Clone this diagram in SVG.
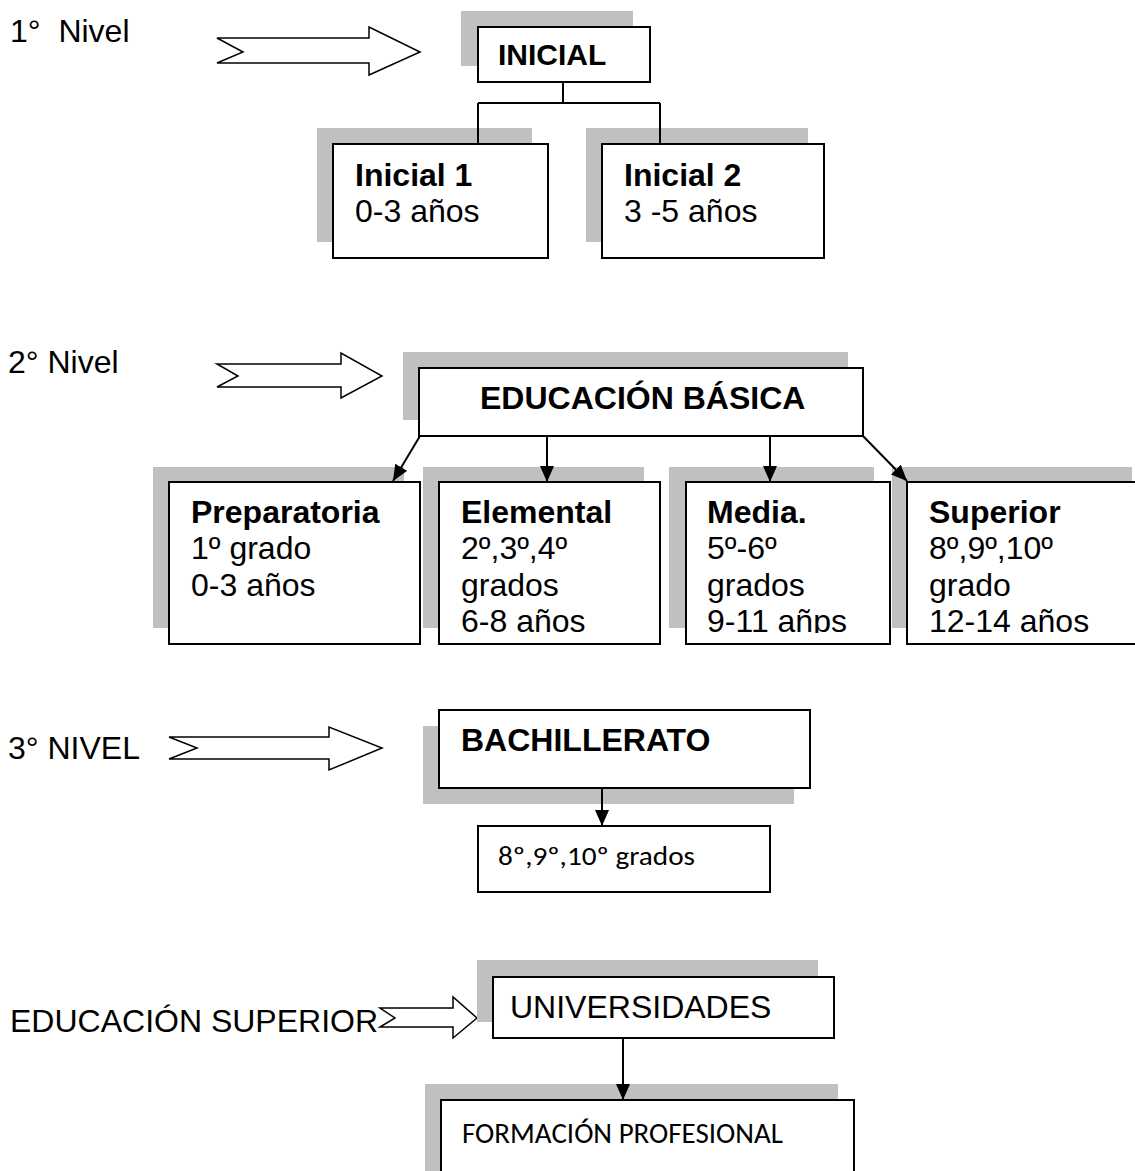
<svg xmlns="http://www.w3.org/2000/svg" width="1135" height="1171" viewBox="0 0 1135 1171">
<style>
.sh{fill:#c0c0c0}
.bx{fill:#fff;stroke:#000;stroke-width:2}
.blk{fill:#fff;stroke:#000;stroke-width:1.5;stroke-linejoin:miter}
.t{font-family:"Liberation Sans",Arial,sans-serif;font-size:32px;fill:#000}
.b{font-weight:bold}
.c{font-family:Carlito,Lato,"Open Sans",sans-serif;fill:#000}
.ln{stroke:#000;stroke-width:2;fill:none}
.ar{stroke:#000;stroke-width:2;fill:none;marker-end:url(#ah)}
</style>
<defs>
<marker id="ah" markerUnits="userSpaceOnUse" markerWidth="16" markerHeight="14" refX="16" refY="7" orient="auto" viewBox="0 0 16 14">
<path d="M0,0 L16,7 L0,14 z" fill="#000"/>
</marker>
<clipPath id="row2"><rect x="0" y="482" width="1135" height="151"/></clipPath>
</defs>
<rect width="1135" height="1171" fill="#fff"/>

<g id="labels">
<text class="t" x="10" y="42" style="white-space:pre">1°  Nivel</text>
<text class="t" x="8" y="373">2° Nivel</text>
<text class="t" x="8" y="759">3° NIVEL</text>
<text class="t" x="10" y="1032">EDUCACIÓN SUPERIOR</text>
</g>

<g id="block-arrows">
<path class="blk" d="M217,38 L369,38 L369,27 L420,52 L369,75 L369,63 L217,63 L243,52 Z"/>
<path class="blk" d="M217,364 L341,364 L341,353 L382,376 L341,398 L341,387 L217,387 L238,376 Z"/>
<path class="blk" d="M169,737 L329,737 L329,727 L382,748 L329,770 L329,759 L169,759 L197,748 Z"/>
<path class="blk" d="M380,1008 L453,1008 L453,997 L477,1018 L453,1038 L453,1027 L380,1027 L395,1018 Z"/>
</g>

<g id="n-inicial">
<rect class="sh" x="461" y="11" width="172" height="55"/>
<rect class="bx" x="478" y="27" width="172" height="55"/>
<text class="t b" x="498" y="65" style="font-size:30px">INICIAL</text>
</g>

<g id="n-inicial1">
<rect class="sh" x="317" y="128" width="215" height="114"/>
<rect class="bx" x="333" y="144" width="215" height="114"/>
<text class="t b" x="355" y="186">Inicial 1</text>
<text class="t" x="355" y="222">0-3 años</text>
</g>

<g id="n-inicial2">
<rect class="sh" x="586" y="128" width="222" height="114"/>
<rect class="bx" x="602" y="144" width="222" height="114"/>
<text class="t b" x="624" y="186">Inicial 2</text>
<text class="t" x="624" y="222">3 -5 años</text>
</g>

<g id="n-basica">
<rect class="sh" x="403" y="352" width="445" height="68"/>
<rect class="bx" x="419" y="368" width="444" height="68"/>
<text class="t b" x="480" y="409">EDUCACIÓN BÁSICA</text>
</g>

<g id="n-preparatoria">
<rect class="sh" x="153" y="467" width="251" height="161"/>
<rect class="bx" x="169" y="482" width="251" height="162"/>
<g clip-path="url(#row2)">
<text class="t b" x="191" y="523">Preparatoria</text>
<text class="t" x="191" y="559">1º grado</text>
<text class="t" x="191" y="596">0-3 años</text>
</g>
</g>

<g id="n-elemental">
<rect class="sh" x="423" y="467" width="221" height="161"/>
<rect class="bx" x="439" y="482" width="221" height="162"/>
<g clip-path="url(#row2)">
<text class="t b" x="461" y="523">Elemental</text>
<text class="t" x="461" y="559">2º,3º,4º</text>
<text class="t" x="461" y="596">grados</text>
<text class="t" x="461" y="632">6-8 años</text>
</g>
</g>

<g id="n-media">
<rect class="sh" x="669" y="467" width="205" height="161"/>
<rect class="bx" x="686" y="482" width="204" height="162"/>
<g clip-path="url(#row2)">
<text class="t b" x="707" y="523">Media.</text>
<text class="t" x="707" y="559">5º-6º</text>
<text class="t" x="707" y="596">grados</text>
<text class="t" x="707" y="632">9-11 añps</text>
</g>
</g>

<g id="n-superior">
<rect class="sh" x="892" y="467" width="240" height="161"/>
<rect class="bx" x="907" y="482" width="245" height="162"/>
<g clip-path="url(#row2)">
<text class="t b" x="929" y="523">Superior</text>
<text class="t" x="929" y="559">8º,9º,10º</text>
<text class="t" x="929" y="596">grado</text>
<text class="t" x="929" y="632">12-14 años</text>
</g>
</g>

<g id="n-bachillerato">
<rect class="sh" x="423" y="726" width="371" height="78"/>
<rect class="bx" x="439" y="710" width="371" height="78"/>
<text class="t b" x="461" y="751">BACHILLERATO</text>
</g>

<g id="n-grados">
<rect class="bx" x="478" y="826" width="292" height="66"/>
<text class="c" x="498" y="865" font-size="26" textLength="197" lengthAdjust="spacingAndGlyphs">8º,9º,10º grados</text>
</g>

<g id="n-universidades">
<rect class="sh" x="477" y="960" width="341" height="62"/>
<rect class="bx" x="493" y="977" width="341" height="61"/>
<text class="t" x="510" y="1018">UNIVERSIDADES</text>
</g>

<g id="n-formacion">
<rect class="sh" x="425" y="1084" width="413" height="100"/>
<rect class="bx" x="441" y="1100" width="413" height="100"/>
<text class="c" x="462" y="1143" font-size="29" textLength="321" lengthAdjust="spacingAndGlyphs">FORMACIÓN PROFESIONAL</text>
</g>

<g id="connectors">
<path class="ln" d="M563,82 V103 M478,103 H660 M478,103 V144 M660,103 V144"/>
<line class="ar" x1="420" y1="436" x2="393" y2="481"/>
<line class="ar" x1="547" y1="436" x2="547" y2="482"/>
<line class="ar" x1="770" y1="436" x2="770" y2="482"/>
<line class="ar" x1="863" y1="436" x2="907" y2="481"/>
<line class="ar" x1="602" y1="788" x2="602" y2="826"/>
<line class="ar" x1="623" y1="1038" x2="623" y2="1100"/>
</g>
</svg>
